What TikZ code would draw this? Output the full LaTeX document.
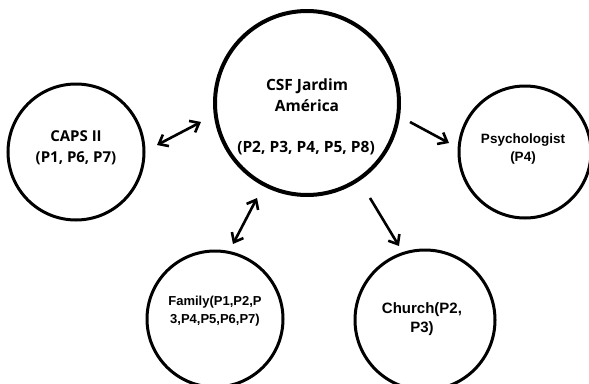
\documentclass[tikz,border=0pt]{standalone}
\usepackage{fontspec}
\setmainfont{Open Sans}
\newfontfamily\arialfont{Liberation Sans}
\usetikzlibrary{arrows.meta}
\begin{document}
\begin{tikzpicture}[x=1pt,y=-1pt,
  circ/.style={circle,draw,line width=3pt,minimum size=#1,inner sep=0pt},
  tip/.tip={Straight Barb[length=8pt,width=13pt]},
  conn/.style={line width=2.6pt,-tip},
  bconn/.style={line width=2.6pt,tip-tip},
  lbl/.style={font=\bfseries\fontsize{15}{20.5}\selectfont,align=center},
  albl/.style={font=\arialfont\bfseries\fontsize{13.5}{18}\selectfont,align=center}]
\useasboundingbox (0,0) rectangle (589,383);
\node[circ=136pt] (caps) at (76,152) {};
\node[circ=184pt,line width=4pt] (csf) at (307,103) {};
\node[circ=132pt] (psy) at (525,152) {};
\node[circ=136pt] (fam) at (215,319) {};
\node[circ=140pt] (chu) at (425,320) {};
\node[lbl] (capst) at (76,148) {CAPS II\\(P1, P6, P7)};
\node[lbl,font=\bfseries\fontsize{15.5}{20.5}\selectfont] (csft) at (307,95) {CSF Jardim\\América};
\node[lbl,font=\bfseries\fontsize{15.5}{20.5}\selectfont] (csfp) at (306,148) {(P2, P3, P4, P5, P8)};
\node[albl] (psyt) at (523,149) {Psychologist\\(P4)};
\node[albl,font=\arialfont\bfseries\fontsize{13}{18}\selectfont] (famt) at (215,311) {Family(P1,P2,P\\3,P4,P5,P6,P7)};
\node[albl,font=\arialfont\bfseries\fontsize{15}{18.5}\selectfont] (chut) at (422,319) {Church(P2,\\P3)};
\coordinate (a1) at (157,145);
\coordinate (a2) at (201,122);
\coordinate (b1) at (410,122);
\coordinate (b2) at (449,143);
\coordinate (c1) at (257,198);
\coordinate (c2) at (233,244);
\coordinate (d1) at (370,198);
\coordinate (d2) at (399,246);
\draw[bconn] (a1) -- (a2);
\draw[conn] (b1) -- (b2);
\draw[bconn] (c1) -- (c2);
\draw[conn] (d1) -- (d2);
\end{tikzpicture}
\end{document}
